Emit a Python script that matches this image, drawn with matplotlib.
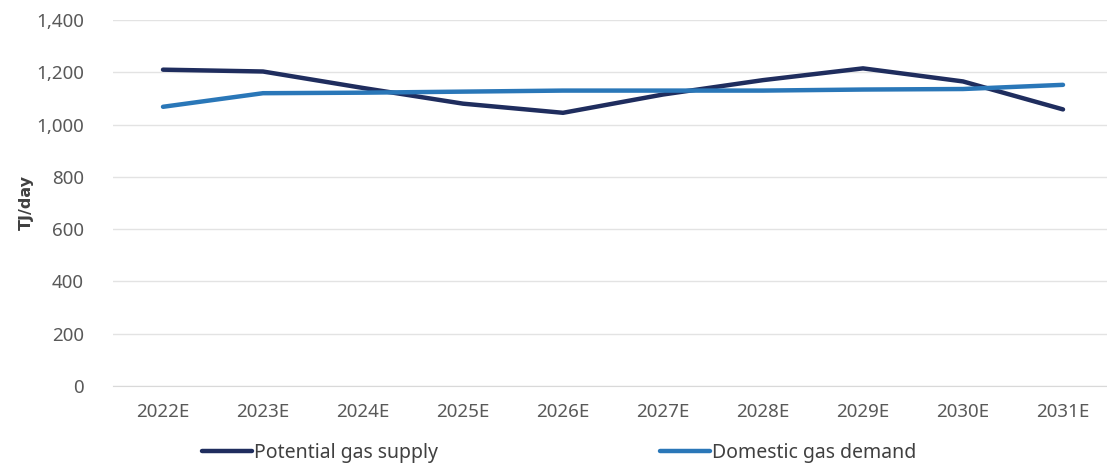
import matplotlib.pyplot as plt

years = ['2022E', '2023E', '2024E', '2025E', '2026E', '2027E', '2028E', '2029E', '2030E', '2031E']
supply = [1210, 1203, 1140, 1080, 1045, 1115, 1170, 1215, 1165, 1058]
demand = [1068, 1120, 1122, 1126, 1130, 1130, 1130, 1134, 1136, 1152]

plt.rcParams['font.family'] = ['Noto Sans', 'DejaVu Sans']

fig = plt.figure(figsize=(11.07, 4.66), dpi=100)
ax = fig.add_axes([113 / 1107, 1 - 386 / 466, 1 - 113 / 1107, (386 - 20) / 466])

x = range(len(years))
ax.plot(x, supply, color='#1f2d5e', lw=3.2, label='Potential gas supply', solid_capstyle='round')
ax.plot(x, demand, color='#2a77b8', lw=3.2, label='Domestic gas demand', solid_capstyle='round')

ax.set_ylim(0, 1400)
ax.set_yticks(range(0, 1401, 200))
ax.set_yticklabels([f'{v:,}' for v in range(0, 1401, 200)])
ax.set_xlim(-0.5, 9.44)
ax.set_xticks(list(x))
ax.set_xticklabels(years)

ax.grid(axis='y', color='#e3e3e3', lw=1)
ax.set_axisbelow(True)
for side in ['top', 'right', 'left']:
    ax.spines[side].set_visible(False)
ax.spines['bottom'].set_color('#d9d9d9')
ax.tick_params(length=0, labelsize=13.5, colors='#595959')
ax.tick_params(axis='x', pad=12)
ax.tick_params(axis='y', pad=21)

ax.set_ylabel('TJ/day', fontsize=11.5, fontweight='bold', color='#404040',
              family=['DejaVu Sans'])
ax.yaxis.set_label_coords(-0.08, 0.5)

fig.legend(loc='center left', bbox_to_anchor=(184 / 1107, 1 - 453 / 466), ncol=2,
           frameon=False, fontsize=14, handlelength=2.6, handletextpad=0.1,
           columnspacing=11.4, labelcolor='#404040')

fig.savefig('out.png', dpi=100)
